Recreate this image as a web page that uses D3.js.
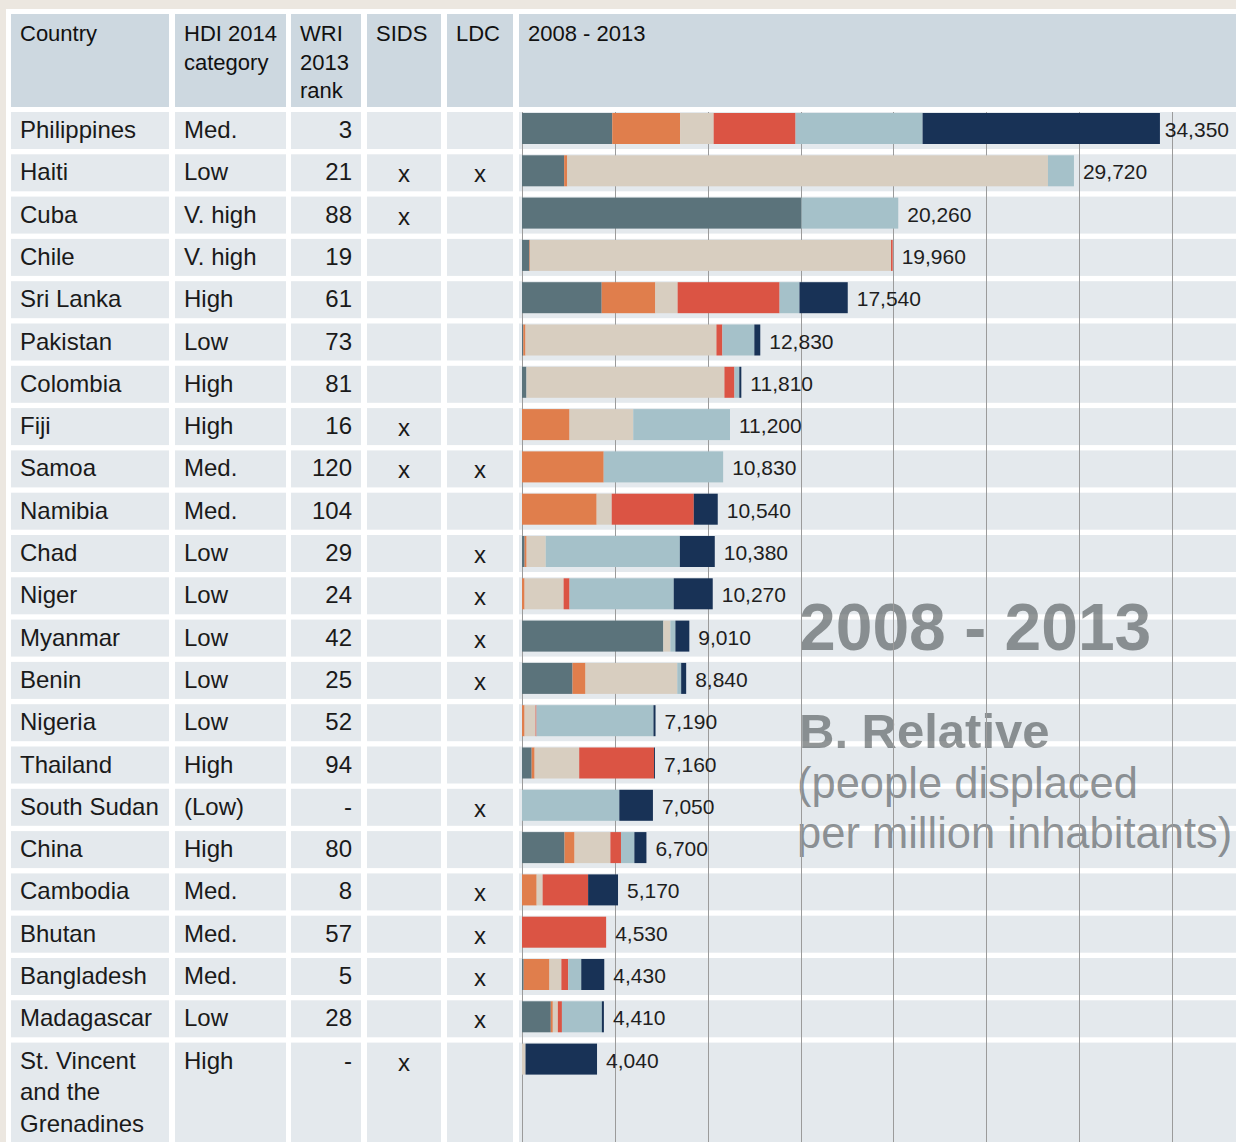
<!DOCTYPE html>
<html>
<head>
<meta charset="utf-8">
<script src="https://cdn.jsdelivr.net/npm/d3@7"></script>
<style>
  html, body { margin: 0; padding: 0; background: #ffffff; }
  svg { display: block; }
  text { font-family: "Liberation Sans", Arial, Helvetica, sans-serif; }
</style>
</head>
<body>
<div id="chart"></div>
<script>
// ---------------- DATA ----------------
const countries = ["Philippines","Haiti","Cuba","Chile","Sri Lanka","Pakistan","Colombia","Fiji","Samoa","Namibia","Chad","Niger","Myanmar","Benin","Nigeria","Thailand","South Sudan","China","Cambodia","Bhutan","Bangladesh","Madagascar","St. Vincent and the Grenadines"];
const hdiCategory = ["Med.","Low","V. high","V. high","High","Low","High","High","Med.","Med.","Low","Low","Low","Low","Low","High","(Low)","High","Med.","Med.","Med.","Low","High"];
const wriRank = ["3","21","88","19","61","73","81","16","120","104","29","24","42","25","52","94","-","80","8","57","5","28","-"];
const sids = ["","x","x","","","","","x","x","","","","","","","","","","","","","","x"];
const ldc  = ["","x","","","","","","","x","","x","x","x","x","","","x","","x","x","x","x",""];
const totals = [34350,29720,20260,19960,17540,12830,11810,11200,10830,10540,10380,10270,9010,8840,7190,7160,7050,6700,5170,4530,4430,4410,4040];

// people displaced per million inhabitants, by year
const years = ["2008","2009","2010","2011","2012","2013"];
const y2008 = [4860,2270,15050,400,4290,70,240,0,0,0,140,0,7610,2720,0,520,0,2290,0,0,90,1550,0];
const y2009 = [3660,170,0,30,2890,120,0,2560,4400,4020,110,140,0,700,140,160,0,540,790,0,1390,110,0];
const y2010 = [1800,25880,0,19440,1200,10280,10660,3430,0,810,1030,2100,380,4940,590,2400,0,1930,320,0,640,270,190];
const y2011 = [4410,0,0,90,5490,320,540,0,0,4420,0,320,0,0,50,4030,0,570,2450,4530,370,220,0];
const y2012 = [6840,1400,5210,0,1070,1720,260,5210,6430,0,7220,5610,270,210,6300,0,5240,720,0,0,700,2150,0];
const y2013 = [12780,0,0,0,2600,320,110,0,0,1290,1880,2100,750,270,110,50,1810,650,1610,0,1240,110,3850];
const gridTicks = [0,5000,10000,15000,20000,25000,30000,35000];
const headers = ["Country","HDI 2014 category","WRI 2013 rank","SIDS","LDC","2008 - 2013"];
const titleLines = ["2008 - 2013","B. Relative","(people displaced","per million inhabitants)"];

// ---------------- LAYOUT ----------------
const W = 1236, H = 1142;
const colors = ["#5b737b","#e07e4c","#d8cec0","#db5444","#a5c1c9","#183256"];
const cols = [
  {x: 11,  w: 158},
  {x: 175, w: 111},
  {x: 291, w: 70},
  {x: 367, w: 74},
  {x: 447, w: 66},
  {x: 519, w: 717}
];
const headTop = 14, headH = 93;
const rowTop0 = 112, rowPitch = 42.3, rowH = 37;

const svg = d3.select("#chart").append("svg").attr("width", W).attr("height", H);

// page background: beige border top/left
svg.append("rect").attr("width", W).attr("height", H).attr("fill", "#ece7e0");
svg.append("rect").attr("x", 6).attr("y", 9).attr("width", W - 6).attr("height", H - 9).attr("fill", "#ffffff");

const rowY = i => rowTop0 + i * rowPitch;
const rowHeight = i => i === countries.length - 1 ? H - rowY(i) : rowH;

// header cells
svg.append("g").selectAll("rect").data(cols).join("rect")
  .attr("x", d => d.x).attr("y", headTop).attr("width", d => d.w).attr("height", headH)
  .attr("fill", "#cdd8e0");

// body cells
const cellsG = svg.append("g");
countries.forEach((c, i) => {
  cellsG.selectAll(null).data(cols).join("rect")
    .attr("x", d => d.x).attr("y", rowY(i)).attr("width", d => d.w).attr("height", rowHeight(i))
    .attr("fill", "#e4e9ed");
});

// text wrapping helper
function wrapLines(str, maxW, fontSize, weight) {
  const words = str.split(" ");
  const tmp = svg.append("text").attr("font-size", fontSize).attr("font-weight", weight || "normal");
  const lines = [];
  let cur = "";
  words.forEach(w => {
    const test = cur ? cur + " " + w : w;
    tmp.text(test);
    if (tmp.node().getComputedTextLength() > maxW && cur) {
      lines.push(cur);
      cur = w;
    } else cur = test;
  });
  if (cur) lines.push(cur);
  tmp.remove();
  return lines;
}

// header texts
const headG = svg.append("g").attr("fill", "#111");
headers.forEach((h, j) => {
  const lines = wrapLines(h, cols[j].w - 14, 22);
  lines.forEach((ln, k) => {
    headG.append("text").attr("x", cols[j].x + 9).attr("y", 41 + k * 28.5)
      .attr("font-size", 22).text(ln);
  });
});

// watermark title (behind gridlines)
const tG = svg.append("g").attr("fill", "#555a5d").attr("fill-opacity", 0.64);
tG.append("text").attr("x", 799).attr("y", 650).attr("font-size", 66).attr("font-weight", "bold").text(titleLines[0]);
tG.append("text").attr("x", 799).attr("y", 748).attr("font-size", 49).attr("font-weight", "bold").text(titleLines[1]);
tG.append("text").attr("x", 797).attr("y", 798).attr("font-size", 43.5).text(titleLines[2]);
tG.append("text").attr("x", 797).attr("y", 848).attr("font-size", 43.5).text(titleLines[3]);

// scale & gridlines
const x = d3.scaleLinear().domain([0, 35000]).range([522, 1172]);
svg.append("g").selectAll("line").data(gridTicks).join("line")
  .attr("x1", d => Math.round(x(d)) + 0.5).attr("x2", d => Math.round(x(d)) + 0.5)
  .attr("y1", rowTop0).attr("y2", H)
  .attr("stroke", "#9b9b9b").attr("stroke-width", 1);

// stacked bars
const table = countries.map((c, i) => ({
  country: c, i,
  "2008": y2008[i], "2009": y2009[i], "2010": y2010[i],
  "2011": y2011[i], "2012": y2012[i], "2013": y2013[i]
}));
const stacked = d3.stack().keys(years)(table);
const colorScale = d3.scaleOrdinal().domain(years).range(colors);

svg.append("g").selectAll("g").data(stacked).join("g")
  .attr("fill", d => colorScale(d.key))
  .selectAll("rect").data(d => d).join("rect")
    .attr("x", d => x(d[0]))
    .attr("y", d => rowY(d.data.i) + 1)
    .attr("width", d => Math.max(0, x(d[1]) - x(d[0])))
    .attr("height", 31);

// value labels
const fmt = d3.format(",");
const labG = svg.append("g").attr("fill", "#1e1e1e");
totals.forEach((t, i) => {
  const end = x(d3.sum(stacked, s => s[i][1] - s[i][0]));
  const txt = labG.append("text").attr("y", rowY(i) + 25).attr("font-size", 21).text(fmt(t));
  const w = txt.node().getComputedTextLength();
  let lx = end + 9;
  if (lx + w > W - 7) lx = Math.max(end + 3, W - 7 - w);
  txt.attr("x", lx);
});

// table body texts
const bodyG = svg.append("g").attr("fill", "#1a1a1a").attr("font-size", 24);
countries.forEach((c, i) => {
  const base = rowY(i) + 26;
  const lines = wrapLines(c, cols[0].w - 12, 24);
  lines.forEach((ln, k) => {
    bodyG.append("text").attr("x", cols[0].x + 9).attr("y", base + k * 31.5).text(ln);
  });
  bodyG.append("text").attr("x", cols[1].x + 9).attr("y", base).text(hdiCategory[i]);
  bodyG.append("text").attr("x", cols[2].x + cols[2].w - 9).attr("y", base)
    .attr("text-anchor", "end").text(wriRank[i]);
  if (sids[i]) bodyG.append("text").attr("x", cols[3].x + cols[3].w / 2).attr("y", base + 2)
    .attr("text-anchor", "middle").text(sids[i]);
  if (ldc[i]) bodyG.append("text").attr("x", cols[4].x + cols[4].w / 2).attr("y", base + 2)
    .attr("text-anchor", "middle").text(ldc[i]);
});
</script>
</body>
</html>
